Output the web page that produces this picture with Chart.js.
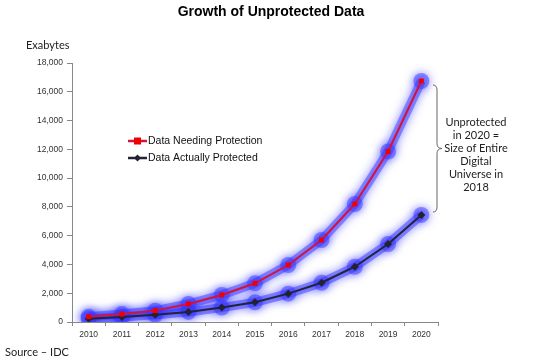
<!DOCTYPE html>
<html>
<head>
<meta charset="utf-8">
<script src="https://cdn.jsdelivr.net/npm/chart.js@4/dist/chart.umd.min.js"></script>
<style>
  html, body { margin: 0; padding: 0; background: #fff; }
  #wrap { width: 534px; height: 360px; position: relative; }
</style>
</head>
<body>
<div id="wrap"><canvas id="growthChart" width="534" height="360"></canvas></div>
<script>
const years = ['2010', '2011', '2012', '2013', '2014', '2015', '2016', '2017', '2018', '2019', '2020'];
const needingProtection = [370, 550, 790, 1250, 1880, 2690, 3960, 5700, 8200, 11850, 16750];
const actuallyProtected = [230, 350, 510, 700, 1000, 1370, 1970, 2730, 3840, 5420, 7440];
const yTicks = [0, 2000, 4000, 6000, 8000, 10000, 12000, 14000, 16000, 18000];
const noteLines = ['Unprotected', 'in 2020 =', 'Size of Entire', 'Digital', 'Universe in', '2018'];

// blue glow behind the series
const glowPlugin = {
  id: 'glow',
  beforeDatasetDraw(chart, args) {
    const ds = chart.data.datasets[args.index];
    if (!ds.glow) return;
    const ctx = chart.ctx;
    ctx.save();
    ctx.shadowColor = 'rgba(30,30,255,1)';
    ctx.shadowBlur = 10;
  },
  afterDatasetDraw(chart, args) {
    const ds = chart.data.datasets[args.index];
    if (!ds.glow) return;
    chart.ctx.restore();
  }
};

// title, axis caption, legend, brace and note
const textPlugin = {
  id: 'texts',
  afterDraw(chart) {
    const ctx = chart.ctx;
    ctx.save();
    ctx.fillStyle = '#000';
    ctx.font = 'bold 14px "Liberation Sans", Arial, sans-serif';
    ctx.textAlign = 'center';
    ctx.textBaseline = 'middle';
    ctx.fillText('Growth of Unprotected Data', 271, 12);

    ctx.font = '11px Lato, "Open Sans", sans-serif';
    ctx.textAlign = 'left';
    ctx.fillStyle = '#222';
    ctx.fillText('Exabytes', 26, 45);
    ctx.fillText('Source \u2013 IDC', 5, 352);

    // legend
    const items = chart.data.datasets.filter(d => !d.glow);
    items.forEach((d, i) => {
      const y = 141 + i * 17;
      ctx.strokeStyle = d.borderColor;
      ctx.lineWidth = 2.5;
      ctx.beginPath();
      ctx.moveTo(128, y);
      ctx.lineTo(147, y);
      ctx.stroke();
      ctx.fillStyle = d.pointBackgroundColor;
      if (d.pointStyle === 'rect') {
        ctx.fillRect(134, y - 3.5, 7, 7);
      } else {
        ctx.beginPath();
        ctx.moveTo(137.5, y - 3.5); ctx.lineTo(141, y); ctx.lineTo(137.5, y + 3.5); ctx.lineTo(134, y);
        ctx.closePath(); ctx.fill();
      }
      ctx.fillStyle = '#111';
      ctx.font = '10.5px "Liberation Sans", Arial, sans-serif';
      ctx.fillText(d.label, 148, y);
    });

    // brace
    const top = 85, bot = 212, mid = (top + bot) / 2;
    ctx.strokeStyle = '#666';
    ctx.lineWidth = 1;
    ctx.beginPath();
    ctx.moveTo(433, top);
    ctx.quadraticCurveTo(437, top, 437, top + 5);
    ctx.lineTo(437, mid - 5);
    ctx.quadraticCurveTo(437, mid, 442, mid);
    ctx.quadraticCurveTo(437, mid, 437, mid + 5);
    ctx.lineTo(437, bot - 5);
    ctx.quadraticCurveTo(437, bot, 433, bot);
    ctx.stroke();

    // note
    ctx.fillStyle = '#222';
    ctx.font = '11px Lato, "Open Sans", sans-serif';
    ctx.textAlign = 'center';
    noteLines.forEach((t, i) => ctx.fillText(t, 476, 122 + i * 13));
    ctx.restore();
  }
};

const tickFont = { family: '"Liberation Sans", Arial, sans-serif', size: 8.5 };
const glowColor = 'rgba(60,60,255,0.5)';

new Chart(document.getElementById('growthChart').getContext('2d'), {
  type: 'line',
  data: {
    labels: years,
    datasets: [
      { label: 'Data Needing Protection', data: needingProtection, order: 1, borderColor: '#d4123a', borderWidth: 2,
        pointStyle: 'rect', pointRadius: 3.5, pointBackgroundColor: '#f00000', pointBorderColor: '#f00000', pointBorderWidth: 0, tension: 0 },
      { label: 'Data Actually Protected', data: actuallyProtected, order: 1, borderColor: '#23233a', borderWidth: 2,
        pointStyle: 'rectRot', pointRadius: 4, pointBackgroundColor: '#222230', pointBorderColor: '#222230', pointBorderWidth: 0, tension: 0 },
      { label: 'glowA', data: needingProtection, glow: true, order: 5, borderColor: glowColor, borderWidth: 9,
        pointRadius: 8, pointStyle: 'circle', pointBackgroundColor: glowColor, pointBorderWidth: 0, tension: 0 },
      { label: 'glowB', data: actuallyProtected, glow: true, order: 5, borderColor: glowColor, borderWidth: 9,
        pointRadius: 8, pointStyle: 'circle', pointBackgroundColor: glowColor, pointBorderWidth: 0, tension: 0 }
    ]
  },
  options: {
    responsive: false,
    animation: false,
    layout: { padding: { left: 0, right: 96, top: 63, bottom: 0 } },
    plugins: { legend: { display: false }, tooltip: { enabled: false }, title: { display: false } },
    scales: {
      x: {
        offset: true,
        grid: { offset: true, drawOnChartArea: false, drawTicks: true, tickLength: 4, color: '#888' },
        border: { color: '#888' },
        ticks: { color: '#333', font: tickFont, padding: 4, maxRotation: 0 },
        afterFit(s) { s.height = 38; }
      },
      y: {
        min: 0, max: 18000,
        afterBuildTicks(s) { s.ticks = yTicks.map(v => ({ value: v })); },
        grid: { drawOnChartArea: false, drawTicks: true, tickLength: 5, color: '#888' },
        border: { color: '#888' },
        ticks: { color: '#333', font: tickFont, padding: 4, callback: v => v.toLocaleString('en-US') },
        afterFit(s) { s.width = 72; }
      }
    }
  },
  plugins: [glowPlugin, textPlugin]
});
</script>
</body>
</html>
